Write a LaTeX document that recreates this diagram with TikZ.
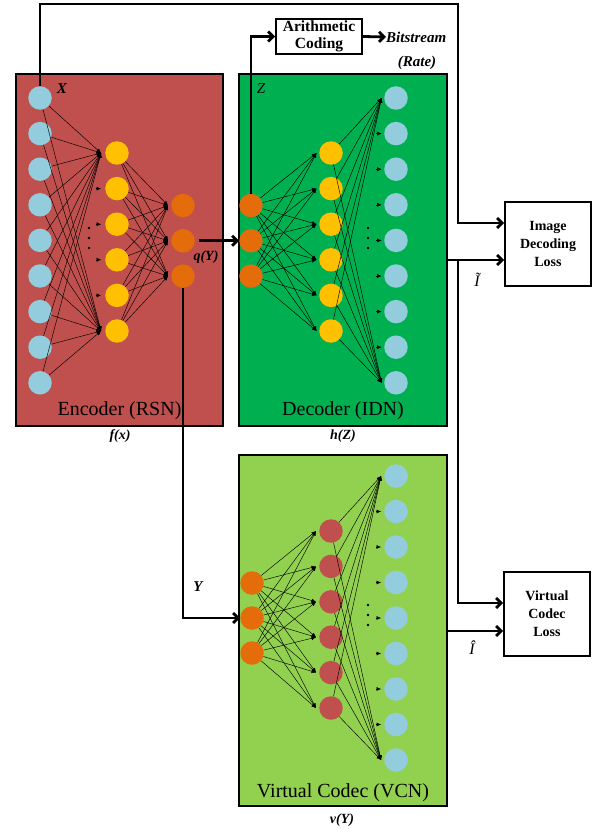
\documentclass[tikz,border=0pt]{standalone}
\usepackage{fontspec}
\setmainfont{Liberation Serif}
\usetikzlibrary{arrows.meta,calc}
\definecolor{encred}{HTML}{C0504D}
\definecolor{decgreen}{HTML}{00B050}
\definecolor{vcngreen}{HTML}{92D050}
\definecolor{lblue}{HTML}{93CDDD}
\definecolor{yel}{HTML}{FFC000}
\definecolor{org}{HTML}{E46C0A}
\definecolor{vred}{HTML}{C0504D}
\begin{document}
\begin{tikzpicture}[x=1pt,y=-1pt,
  bigbox/.style={draw=black,line width=2.8pt,inner sep=0pt},
  lossbox/.style={draw=black,line width=2pt,fill=white,inner sep=0pt,align=center,
    font=\bfseries\fontsize{14}{18}\selectfont},
  neuron/.style={circle,minimum size=23.5pt,inner sep=0pt},
  conn/.style={line width=0.45pt,-{Latex[length=4.5pt,width=3.8pt]}},
  stub/.style={line width=0.45pt,-{Latex[length=4.5pt,width=4pt]}},
  mainline/.style={line width=2.8pt},
  mainarrow/.style={line width=2.8pt,-{Straight Barb[length=5pt,width=10pt]}},
  blabel/.style={font=\fontsize{20}{24}\selectfont,inner sep=0pt},
  ilabel/.style={font=\bfseries\itshape\fontsize{14}{16}\selectfont,inner sep=0pt},
  dotmark/.style={circle,fill=black,minimum size=2.8pt,inner sep=0pt}]
\useasboundingbox (0,0) rectangle (596,829);

% big boxes
\node[bigbox,fill=encred,minimum width=207pt,minimum height=352pt] (enc) at (119.5,250) {};
\node[bigbox,fill=decgreen,minimum width=208pt,minimum height=352pt] (dec) at (343,250) {};
\node[bigbox,fill=vcngreen,minimum width=208pt,minimum height=351pt] (vcn) at (343,630.5) {};

\node[blabel] (enclab) at (119.5,411) {Encoder (RSN)};
\node[blabel] (declab) at (343,411) {Decoder (IDN)};
\node[blabel] (vcnlab) at (343,793) {Virtual Codec (VCN)};

% ---------- encoder neurons ----------
\foreach \i in {1,...,9} \node[neuron,fill=lblue] (ex\i) at (40,{98+(\i-1)*35.6}) {};
\foreach \j in {1,...,6} {
  \node[neuron,fill=yel] (ey\j) at (117,{153+(\j-1)*35.6}) {};
  \coordinate (ey\j t) at ($(ey\j.west)+(-4,0)$);
}
\foreach \k in {1,2,3} {
  \node[neuron,fill=org] (eo\k) at (183,{205.5+(\k-1)*35.3}) {};
  \coordinate (eo\k t) at ($(eo\k.west)+(-3,0)$);
}
\foreach \i in {1,...,9} {
  \draw[conn] (ex\i) -- (ey1t);
  \draw[conn] (ex\i) -- (ey6t);
}
\foreach \j in {2,...,5} \draw[stub] ($(ey\j t)+(-5.5,0)$) -- (ey\j t);
\foreach \j in {1,...,6} \foreach \k in {1,2,3} \draw[conn] (ey\j) -- (eo\k t);
\foreach \d [count=\n] in {228,238,248} \node[dotmark] (edot\n) at (89,\d) {};

% ---------- decoder neurons ----------
\foreach \k in {1,2,3} \node[neuron,fill=org] (dz\k) at (251,{205.5+(\k-1)*35.3}) {};
\foreach \j in {1,...,6} {
  \node[neuron,fill=yel] (dy\j) at (331,{153+(\j-1)*35.6}) {};
  \coordinate (dy\j t) at ($(dy\j.west)+(-2.5,0)$);
}
\foreach \i in {1,...,9} {
  \node[neuron,fill=lblue] (dx\i) at (396,{98+(\i-1)*35.6}) {};
  \coordinate (dx\i t) at ($(dx\i.west)+(-2.5,0)$);
}
\foreach \k in {1,2,3} \foreach \j in {1,...,6} \draw[conn] (dz\k) -- (dy\j t);
\foreach \j in {1,...,6} {
  \draw[conn] (dy\j) -- (dx1t);
  \draw[conn] (dy\j) -- (dx9t);
}
\foreach \i in {2,...,8} \draw[stub] ($(dx\i t)+(-5.5,0)$) -- (dx\i t);
\foreach \d [count=\n] in {228,238,248} \node[dotmark] (ddot\n) at (368,\d) {};

% ---------- VCN neurons ----------
\foreach \k in {1,2,3} \node[neuron,fill=org] (vz\k) at (252,{583+(\k-1)*35}) {};
\foreach \j in {1,...,6} {
  \node[neuron,fill=vred] (vh\j) at (331,{531+(\j-1)*35.4}) {};
  \coordinate (vh\j t) at ($(vh\j.west)+(-3,0)$);
}
\foreach \i in {1,...,9} {
  \node[neuron,fill=lblue] (vx\i) at (396,{476+(\i-1)*35.5}) {};
  \coordinate (vx\i t) at ($(vx\i.west)+(-3,0)$);
}
\foreach \k in {1,2,3} \foreach \j in {1,...,6} \draw[conn] (vz\k) -- (vh\j t);
\foreach \j in {1,...,6} {
  \draw[conn] (vh\j) -- (vx1t);
  \draw[conn] (vh\j) -- (vx9t);
}
\foreach \i in {2,...,8} \draw[stub] ($(vx\i t)+(-5.5,0)$) -- (vx\i t);
\foreach \d [count=\n] in {605,615,625} \node[dotmark] (vdot\n) at (368,\d) {};

% ---------- side boxes ----------
\node[lossbox,font=\bfseries\fontsize{15.5}{17}\selectfont,minimum width=86pt,minimum height=35pt] (ac) at (319,36.5) {Arithmetic\\Coding};
\node[lossbox,minimum width=86pt,minimum height=84pt] (idl) at (548,244) {Image\\Decoding\\Loss};
\node[lossbox,minimum width=86pt,minimum height=84pt] (vcl) at (547,614) {Virtual\\Codec\\Loss};

\node[ilabel,font=\bfseries\itshape\fontsize{15}{17}\selectfont,anchor=west] (bit) at (386,37) {Bitstream};
\node[ilabel,font=\bfseries\itshape\fontsize{15}{17}\selectfont] (rate) at (417,63) {(Rate)};

% ---------- main connectors ----------
\coordinate (topL) at (40,4);
\coordinate (topR) at (458,4);
\coordinate (idlA) at ($(idl.west)+(0,-21)$);
\draw[mainarrow] (ex1.north) -- (topL) -- (topR) |- (idlA);

\draw[mainarrow] (dz1.north) |- (ac.west);
\draw[mainarrow] (ac.east) -- (bit.west);

\coordinate (eoout) at ($(eo2.east)+(4,0)$);
\draw[mainarrow] (eoout) -- (dz2.west);

\draw[mainarrow] (eo3.south) |- (vz2.west);

\coordinate (decout) at (447,260);
\coordinate (split) at (458,260);
\draw[mainarrow] (decout) -- (idl.west |- decout);
\coordinate (vclA) at ($(vcl.west)+(0,-11)$);
\draw[mainarrow] (split) |- (vclA);

\coordinate (vcnout) at (446,631);
\draw[mainarrow] (vcnout) -- (vcl.west |- vcnout);

% ---------- labels ----------
\node[ilabel,font=\itshape\bfseries\fontsize{15}{17}\selectfont] (xlab) at (62,89) {X};
\node[ilabel,font=\itshape\fontsize{15}{17}\selectfont] (zlab) at (261,89) {Z};
\node[ilabel] (qlab) at (206,257) {q(Y)};
\node[ilabel,font=\itshape\bfseries\fontsize{15}{17}\selectfont] (ylab) at (198,587) {Y};
\node[ilabel] (flab) at (120,436) {f(x)};
\node[ilabel] (hlab) at (343,436) {h(Z)};
\node[ilabel] (vlab) at (342,820) {v(Y)};
\node[ilabel,font=\itshape\fontsize{16}{18}\selectfont] (itl) at (477,280) {Ĩ};
\node[ilabel,font=\itshape\fontsize{16}{18}\selectfont] (ihat) at (472,648) {Î};
\end{tikzpicture}
\end{document}
